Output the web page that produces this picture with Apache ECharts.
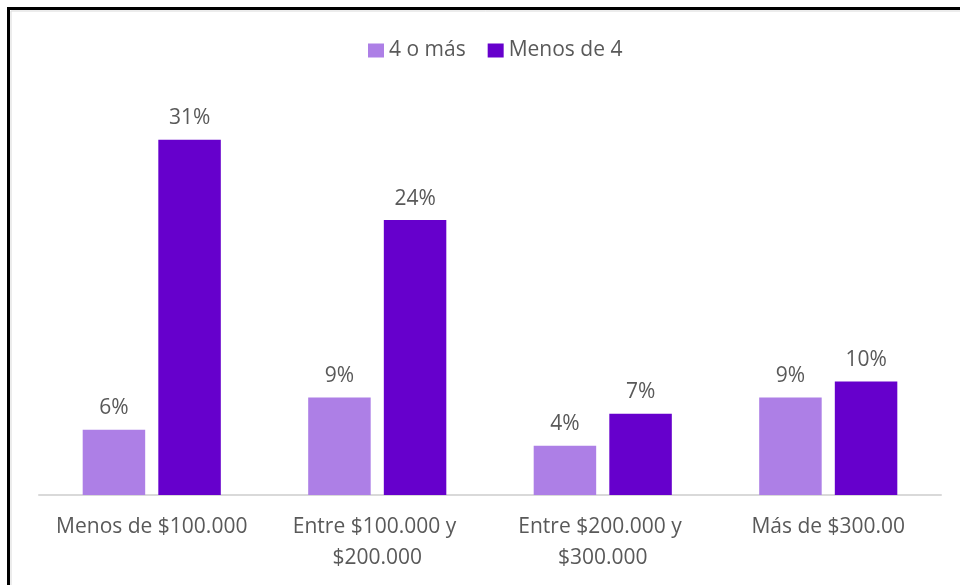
<!DOCTYPE html>
<html>
<head>
<meta charset="utf-8">
<script src="https://cdn.jsdelivr.net/npm/echarts@6/dist/echarts.min.js"></script>
<style>
  html, body { margin: 0; padding: 0; background: #fff; }
  #chart { width: 960px; height: 585px; }
</style>
</head>
<body>
<div id="chart"></div>
<script>
// categorías de ingreso
var categories = ["Menos de $100.000", "Entre $100.000 y $200.000", "Entre $200.000 y $300.000", "Más de $300.00"];
var seriesNames = ["4 o más", "Menos de 4"];
// porcentajes
var cuatroOMas = [5.7, 8.5, 4.3, 8.5];
var menosDe4 = [31, 24, 7.1, 9.9];

var textColor = "#595959";
var font = "'Open Sans', 'Noto Sans', sans-serif";

var chart = echarts.init(document.getElementById("chart"));

var labelOpt = {
  show: true,
  position: "top",
  distance: 11,
  color: textColor,
  fontFamily: font,
  fontSize: 21,
  formatter: function (p) {
    return Math.round(p.value) + "%";
  }
};

chart.setOption({
  animation: false,
  backgroundColor: "#fff",
  textStyle: { fontFamily: font },
  legend: {
    data: seriesNames,
    top: 35,
    left: 363,
    itemWidth: 16,
    itemHeight: 14,
    itemGap: 22,
    icon: "rect",
    textStyle: { color: textColor, fontSize: 21, fontFamily: font }
  },
  grid: { left: 39, right: 19, top: 94, bottom: 90, containLabel: false },
  xAxis: {
    type: "category",
    data: categories,
    axisTick: { show: false },
    axisLine: { lineStyle: { color: "#d9d9d9", width: 2 } },
    axisLabel: {
      color: textColor,
      fontSize: 21,
      fontFamily: font,
      margin: 17,
      lineHeight: 31,
      width: 205,
      overflow: "break",
      interval: 0
    }
  },
  yAxis: {
    type: "value",
    min: 0,
    max: 35,
    show: false,
    splitLine: { show: false }
  },
  series: [
    {
      name: seriesNames[0],
      type: "bar",
      data: cuatroOMas,
      barWidth: 62.5,
      barGap: "21%",
      itemStyle: { color: "#ad7fe6" },
      label: labelOpt
    },
    {
      name: seriesNames[1],
      type: "bar",
      data: menosDe4,
      barWidth: 62.5,
      barGap: "21%",
      itemStyle: { color: "#6600cc" },
      label: labelOpt
    }
  ],
  graphic: [
    { type: "line", shape: { x1: 11, y1: 11, x2: 960, y2: 11 }, style: { stroke: "#d9d9d9", lineWidth: 1 } },
    { type: "line", shape: { x1: 11, y1: 11, x2: 11, y2: 585 }, style: { stroke: "#d9d9d9", lineWidth: 1 } },
    { type: "line", shape: { x1: 7, y1: 8.5, x2: 960, y2: 8.5 }, style: { stroke: "#000", lineWidth: 3 } },
    { type: "line", shape: { x1: 8.5, y1: 7, x2: 8.5, y2: 585 }, style: { stroke: "#000", lineWidth: 3 } }
  ]
});
</script>
</body>
</html>
